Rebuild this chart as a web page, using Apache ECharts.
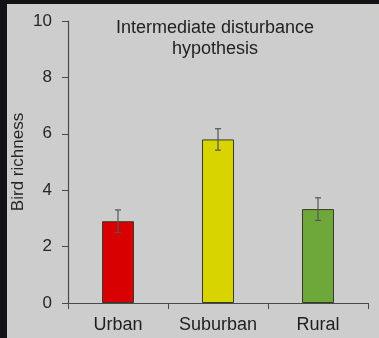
<!DOCTYPE html>
<html>
<head>
<meta charset="utf-8">
<script src="https://cdn.jsdelivr.net/npm/echarts@6/dist/echarts.min.js"></script>
<style>
  html, body { margin: 0; padding: 0; background: #131317; width: 379px; height: 338px; overflow: hidden; }
  #chart { position: absolute; left: 7px; top: 4px; width: 372px; height: 334px; background: #cdcdcd; }
</style>
</head>
<body>
<div id="chart"></div>
<script>
// Bird richness by land-use category
const categories = ['Urban', 'Suburban', 'Rural'];
const richness = [2.9, 5.8, 3.33];
const errors = [0.4, 0.38, 0.4];
const barColors = ['#d80000', '#d8d400', '#6fa83a'];
const yTicks = [0, 2, 4, 6, 8, 10];

const chart = echarts.init(document.getElementById('chart'));
const font = 'Liberation Sans, Arial, sans-serif';

chart.setOption({
  animation: false,
  title: {
    text: 'Intermediate disturbance\nhypothesis',
    left: 203, top: 9, textAlign: 'center',
    textStyle: { fontFamily: font, fontSize: 18, fontWeight: 'normal', color: '#222', lineHeight: 21 }
  },
  grid: { left: 61, top: 17, right: 11, bottom: 35, containLabel: false, outerBoundsMode: 'none' },
  xAxis: {
    type: 'category',
    data: categories,
    axisLine: { lineStyle: { color: '#4a4a4a', width: 1.2 } },
    axisTick: { show: true, alignWithLabel: false, length: 6, lineStyle: { color: '#4a4a4a' } },
    axisLabel: { fontFamily: font, fontSize: 18, color: '#1e1e1e', margin: 13, interval: 0, hideOverlap: false }
  },
  yAxis: {
    type: 'value',
    min: yTicks[0], max: yTicks[yTicks.length - 1], interval: 2,
    name: 'Bird richness',
    nameLocation: 'middle',
    nameGap: 41,
    nameMoveOverlap: false,
    nameTextStyle: { fontFamily: font, fontSize: 17, color: '#262626' },
    axisLine: { show: true, lineStyle: { color: '#4a4a4a', width: 1.2 } },
    axisTick: { show: true, length: 6, lineStyle: { color: '#4a4a4a' } },
    splitLine: { show: false },
    axisLabel: { fontFamily: font, fontSize: 17, color: '#262626', margin: 16 }
  },
  series: [
    {
      type: 'bar',
      barWidth: '32%',
      data: richness.map((v, i) => ({
        value: v,
        itemStyle: { color: barColors[i], borderColor: '#3a3a2a', borderWidth: 1 }
      })),
      z: 2
    },
    {
      type: 'custom',
      z: 3,
      data: richness.map((v, i) => [i, v - errors[i], v + errors[i]]),
      renderItem: function (params, api) {
        const lo = api.coord([api.value(0), api.value(1)]);
        const hi = api.coord([api.value(0), api.value(2)]);
        const half = 3;
        const style = { stroke: '#555', lineWidth: 1.2, fill: null };
        return {
          type: 'group',
          children: [
            { type: 'line', shape: { x1: hi[0], y1: hi[1], x2: lo[0], y2: lo[1] }, style: style },
            { type: 'line', shape: { x1: hi[0] - half, y1: hi[1], x2: hi[0] + half, y2: hi[1] }, style: style },
            { type: 'line', shape: { x1: lo[0] - half, y1: lo[1], x2: lo[0] + half, y2: lo[1] }, style: style }
          ]
        };
      }
    }
  ]
});
</script>
</body>
</html>
